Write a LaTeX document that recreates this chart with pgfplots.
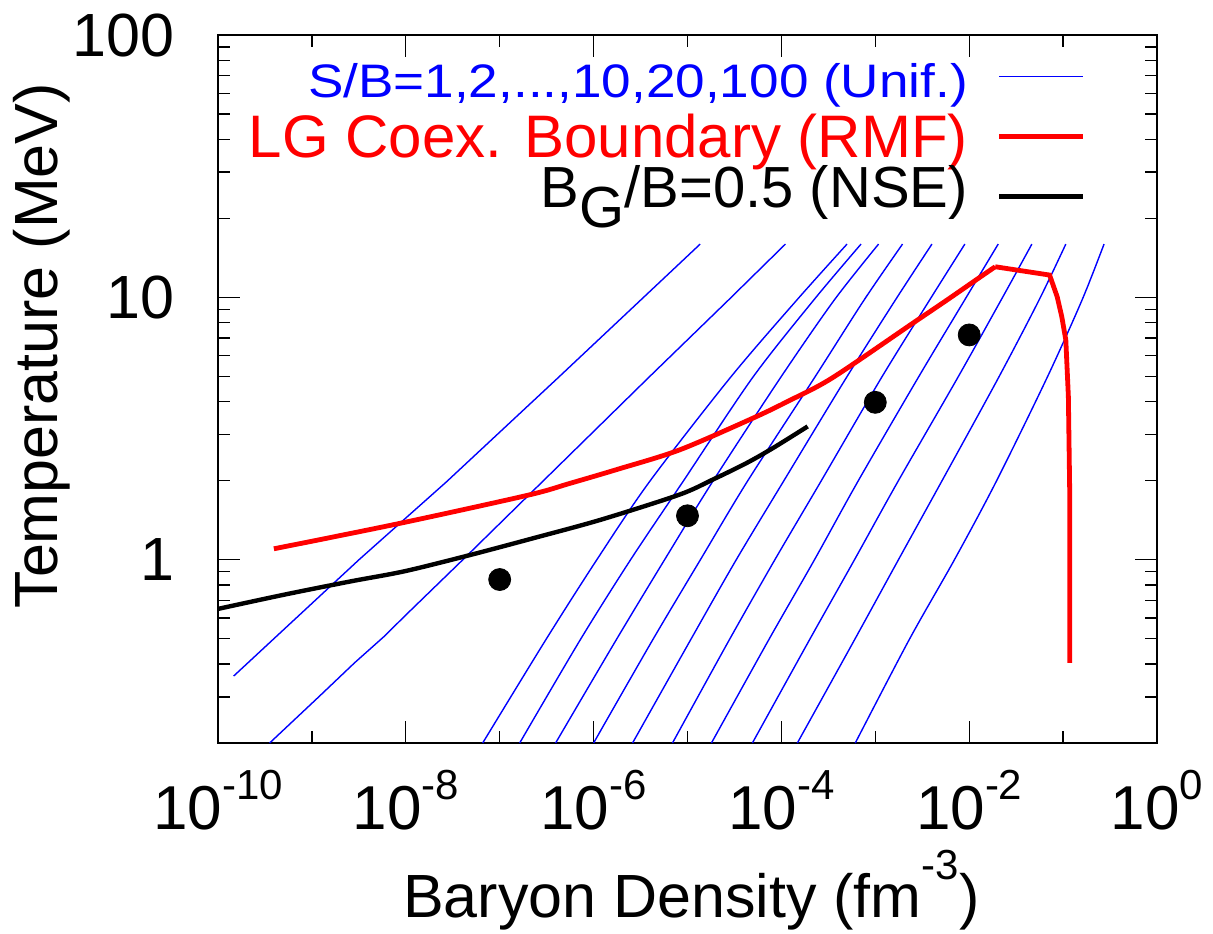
\documentclass[border=0pt]{standalone}
\usepackage{pgfplots}
\pgfplotsset{compat=1.18}
\usepackage{fontspec}
\setmainfont{Liberation Sans}
\newcommand\tickf{\fontsize{31}{36}\selectfont}
\newcommand\labf{\fontsize{30.5}{36}\selectfont}
\newcommand\supr[1]{\raisebox{15pt}{\fontsize{21}{21}\selectfont #1}}
\newcommand\supl[1]{\raisebox{19pt}{\fontsize{21}{21}\selectfont #1}}
\begin{document}
\begin{tikzpicture}
\begin{axis}[
  scale only axis, width=469.5pt, height=354pt,
  xmode=log, ymode=log,
  xmin=1e-10, xmax=1, ymin=0.2, ymax=100,
  axis line style={line width=1pt, black},
  tick style={line width=0.7pt, black},
  major tick length=11pt, minor tick length=6pt,
  tick align=inside,
  xtick={1e-10,1e-8,1e-6,1e-4,1e-2,1},
  minor xtick={1e-9,1e-7,1e-5,1e-3,1e-1},
  xticklabels={10\supr{-10},10\supr{-8},10\supr{-6},10\supr{-4},10\supr{-2},10\supr{0}},
  ytick={1,10,100}, yticklabels={1,10,100},
  minor ytick={0.2,0.3,0.4,0.5,0.6,0.7,0.8,0.9,2,3,4,5,6,7,8,9,20,30,40,50,60,70,80,90},
  xticklabel style={font=\tickf, anchor=base, yshift=-43pt},
  yticklabel style={font=\labf, anchor=east, inner sep=0pt, xshift=-21.5pt},
  xlabel={Baryon Density (fm\supl{-3})},
  ylabel={Temperature (MeV)},
  every axis x label/.style={at={(axis description cs:0.504,-0.247)}, anchor=base, font=\labf},
  every axis y label/.style={at={(axis description cs:-0.188,0.561)}, anchor=center, rotate=90, font=\labf},
  legend style={at={(axis description cs:0.9245,0.9845)}, anchor=north east, draw=none, fill=none, row sep=0pt, column sep=14.5pt, inner sep=0pt, nodes={inner sep=0pt}},
  legend cell align=right,
  legend plot pos=right,
  legend image code/.code={\draw[#1] (0pt,0pt) -- (42pt,0pt);},
]
% S/B = 100
\addplot[blue, line width=0.7pt] coordinates {(1.469e-10,0.36) (3.18e-9,1) (2.71e-8,1.98) (4.17e-7,4.93) (3.18e-6,9.77) (1.365e-5,15.96)};
\addlegendentry[text height=25.5pt, text depth=4.5pt]{\scalebox{1.13}[1]{\fontsize{23.5}{28}\selectfont\textcolor{blue}{S/B=1,2,...,10,20,100 (Unif.)}}}
% S/B = 20
\addplot[blue, line width=0.7pt, forget plot] coordinates {(3.55e-10,0.2) (1.208e-9,0.302) (2.84e-9,0.404) (5.93e-9,0.511) (9.68e-9,0.608) (4.06e-8,1) (2.84e-7,1.98) (3.82e-6,4.93) (2.735e-5,9.77) (1.104e-4,15.96)};
% S/B = 10
\addplot[blue, line width=0.7pt, smooth, forget plot] coordinates {(6.59e-8,0.2) (3.11e-7,0.496) (1.084e-6,1) (3.93e-6,1.98) (2.84e-5,4.93) (1.462e-4,9.77) (5.00e-4,15.96)};
% S/B = 9
\addplot[blue, line width=0.7pt, smooth, forget plot] coordinates {(1.633e-7,0.2) (7.24e-7,0.496) (2.48e-6,1) (8.91e-6,1.98) (4.91e-5,4.93) (2.213e-4,9.77) (7.05e-4,15.96)};
% S/B = 8
\addplot[blue, line width=0.7pt, smooth, forget plot] coordinates {(3.94e-7,0.2) (1.750e-6,0.496) (5.71e-6,1) (1.845e-5,1.98) (9.75e-5,4.93) (3.66e-4,9.77) (1.084e-3,15.96)};
% S/B = 7
\addplot[blue, line width=0.7pt, smooth, forget plot] coordinates {(1.0e-6,0.2) (4.28e-6,0.496) (1.374e-5,1) (4.31e-5,1.98) (2.244e-4,4.93) (7.60e-4,9.77) (1.950e-3,15.96)};
% S/B = 6
\addplot[blue, line width=0.7pt, smooth, forget plot] coordinates {(2.60e-6,0.2) (1.084e-5,0.496) (3.31e-5,1) (1.045e-4,1.98) (4.90e-4,4.93) (1.637e-3,9.77) (4.01e-3,15.96)};
% S/B = 5
\addplot[blue, line width=0.7pt, smooth, forget plot] coordinates {(6.92e-6,0.2) (2.80e-5,0.496) (8.53e-5,1) (2.618e-4,1.98) (1.159e-3,4.93) (3.79e-3,9.77) (8.99e-3,15.96)};
% S/B = 4
\addplot[blue, line width=0.7pt, smooth, forget plot] coordinates {(1.799e-5,0.2) (7.36e-5,0.496) (2.254e-4,1) (6.49e-4,1.98) (2.851e-3,4.93) (8.95e-3,9.77) (2.037e-2,15.96)};
% S/B = 3
\addplot[blue, line width=0.7pt, smooth, forget plot] coordinates {(4.91e-5,0.2) (2.0e-4,0.496) (6.01e-4,1) (1.734e-3,1.98) (7.52e-3,4.93) (2.188e-2,9.77) (4.65e-2,15.96)};
% S/B = 2
\addplot[blue, line width=0.7pt, smooth, forget plot] coordinates {(1.479e-4,0.2) (6.03e-4,0.496) (1.766e-3,1) (5.06e-3,1.98) (2.046e-2,4.93) (5.55e-2,9.77) (0.1069,15.96)};
% S/B = 1
\addplot[blue, line width=0.7pt, smooth, forget plot] coordinates {(6.12e-4,0.2) (2.301e-3,0.496) (6.97e-3,1) (1.932e-2,1.98) (6.73e-2,4.93) (0.1592,9.77) (0.2729,15.96)};
% LG coexistence boundary
\addplot[red, line width=2.4pt, smooth] coordinates {(3.94e-10,1.10) (8.22e-9,1.37) (1.986e-7,1.76) (5.50e-7,1.95) (1.799e-6,2.21) (8.22e-6,2.62) (4.95e-5,3.46) (1.216e-4,4.04) (3.48e-4,4.93) (2.495e-3,7.96) (5.81e-3,9.77) (1.178e-2,11.64) (1.892e-2,13.08)};
\addlegendentry[text height=25.5pt, text depth=4.5pt]{\fontsize{30}{36}\selectfont\textcolor{red}{LG Coex. Boundary (RMF)}}
\addplot[red, line width=2.4pt, forget plot] coordinates {(1.892e-2,13.08) (7.18e-2,12.16) (8.65e-2,10.05) (9.68e-2,8.44) (0.1069,6.88) (0.1138,4.19) (0.1178,1.74) (0.1178,0.404)};
% NSE
\addplot[black, line width=2.2pt, smooth] coordinates {(1e-10,0.649) (5.13e-10,0.736) (2.618e-9,0.827) (9.68e-9,0.903) (4.57e-8,1.036) (2.339e-7,1.21) (1.197e-6,1.42) (8.22e-6,1.77) (1.862e-5,2.02) (4.21e-5,2.33) (8.09e-5,2.66) (1.905e-4,3.22)};
\addlegendentry[text height=20.5pt, text depth=9.5pt]{\fontsize{29}{36}\selectfont B\raisebox{-10pt}{G}/B=0.5 (NSE)}
% points
\addplot[only marks, mark=*, mark size=5.5pt, black, forget plot] coordinates {(1e-7,0.84) (1e-5,1.47) (1e-3,3.98) (1e-2,7.19)};
\end{axis}
\pgfresetboundingbox
\useasboundingbox (-109pt,-95pt) rectangle (497.5pt,371.5pt);
\end{tikzpicture}
\end{document}
